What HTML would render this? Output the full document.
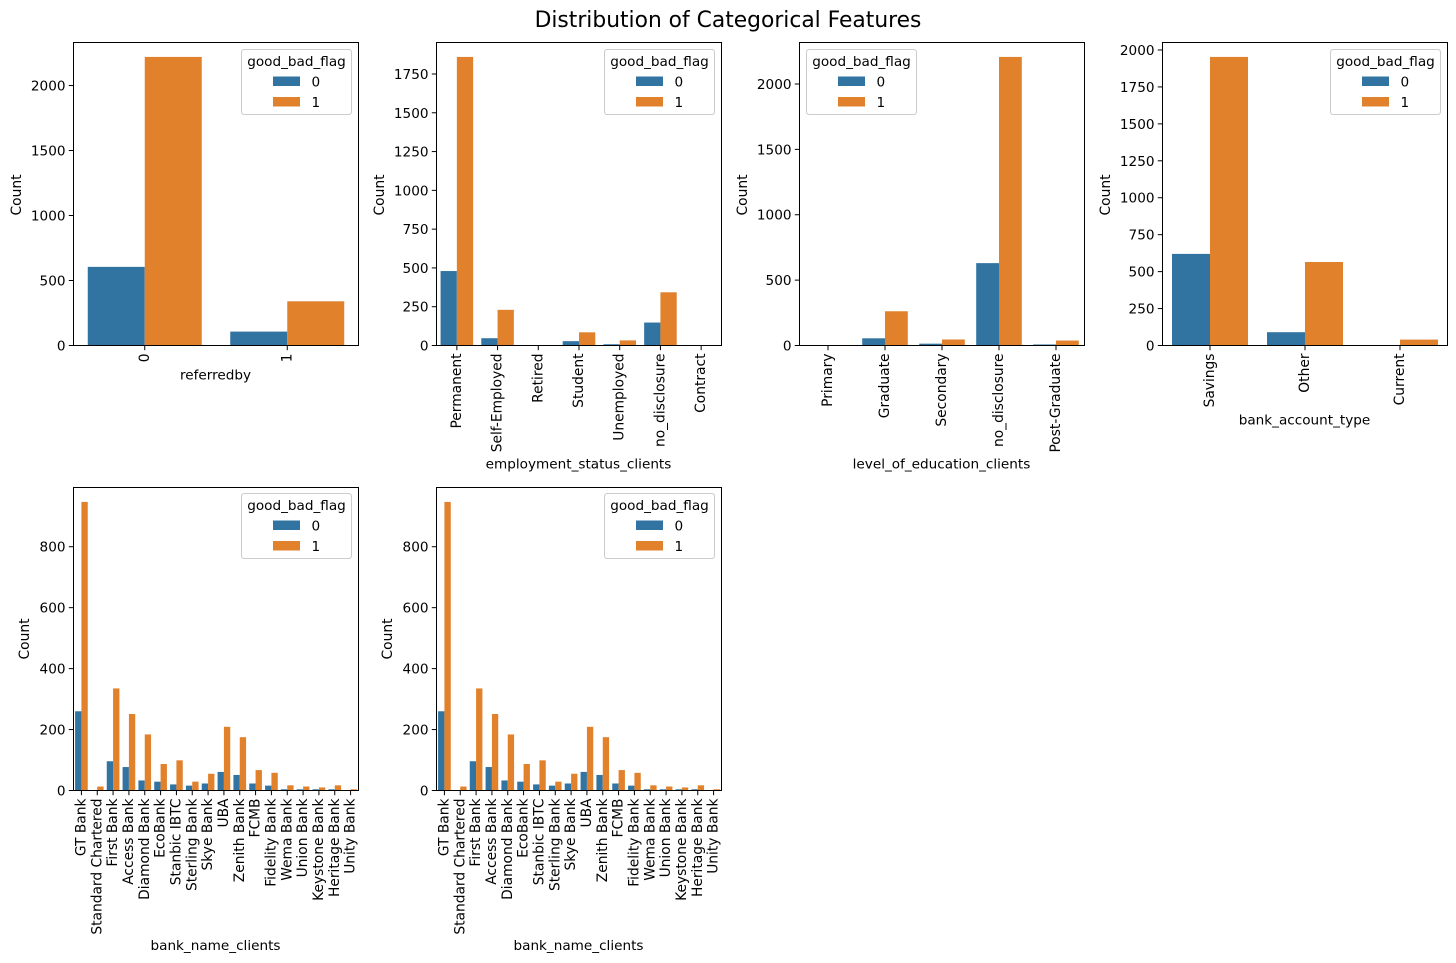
<!DOCTYPE html>
<html lang="en">
<head>
<meta charset="utf-8">
<title>Distribution of Categorical Features</title>
<style>
html,body{margin:0;padding:0;background:#fff;width:1456px;height:963px;overflow:hidden}
svg{display:block}
text{font-family:"DejaVu Sans","Liberation Sans",sans-serif;font-size:13.6px;fill:#000}
text.rot{font-size:13.8px}
</style>
</head>
<body>
<svg id="figure" xmlns="http://www.w3.org/2000/svg" width="1456" height="963" viewBox="0 0 1456 963">
<text x="728" y="27" text-anchor="middle" style="font-size:21.8px">Distribution of Categorical Features</text>
</svg>
<script>
const referredCategories = ["0", "1"];
const referredClass0 = [605, 107];
const referredClass1 = [2220, 340];
const referredTicks = [0, 500, 1000, 1500, 2000];

const employmentCategories = ["Permanent", "Self-Employed", "Retired", "Student", "Unemployed", "no_disclosure", "Contract"];
const employmentClass0 = [480, 47, 0, 28, 8, 148, 0];
const employmentClass1 = [1860, 230, 1, 85, 33, 343, 1];
const employmentTicks = [0, 250, 500, 750, 1000, 1250, 1500, 1750];

const educationCategories = ["Primary", "Graduate", "Secondary", "no_disclosure", "Post-Graduate"];
const educationClass0 = [0, 55, 14, 630, 8];
const educationClass1 = [2, 262, 46, 2207, 38];
const educationTicks = [0, 500, 1000, 1500, 2000];

const accountCategories = ["Savings", "Other", "Current"];
const accountClass0 = [620, 90, 1];
const accountClass1 = [1953, 565, 40];
const accountTicks = [0, 250, 500, 750, 1000, 1250, 1500, 1750, 2000];

const bankCategories = ["GT Bank", "Standard Chartered", "First Bank", "Access Bank", "Diamond Bank", "EcoBank", "Stanbic IBTC", "Sterling Bank", "Skye Bank", "UBA", "Zenith Bank", "FCMB", "Fidelity Bank", "Wema Bank", "Union Bank", "Keystone Bank", "Heritage Bank", "Unity Bank"];
const bankClass0 = [260, 0, 96, 77, 33, 29, 20, 16, 23, 61, 51, 23, 16, 4, 4, 4, 4, 0];
const bankClass1 = [947, 13, 335, 251, 184, 87, 99, 29, 55, 209, 175, 67, 58, 17, 13, 10, 17, 4];
const bankTicks = [0, 200, 400, 600, 800];

const legendTitle = "good_bad_flag";
const legendLabels = ["0", "1"];

const NS = "http://www.w3.org/2000/svg";
const figure = document.getElementById("figure");
const BLUE = "#3274a1";
const ORANGE = "#e1812c";
const AXES_W = 285;
const AXES_H = 303;

function mk(parent, tag, attrs, content) {
  const node = document.createElementNS(NS, tag);
  for (const key in attrs) node.setAttribute(key, attrs[key]);
  if (content !== undefined) node.textContent = content;
  parent.appendChild(node);
  return node;
}

function drawPanel(p) {
  const panel = mk(figure, "g", {});
  
  

  const n = p.categories.length;
  const yMax = Math.max(...p.class0, ...p.class1) * 1.05;
  const xScale = function (v) { return p.x + (v + 0.5) / n * AXES_W; };
  const yScale = function (v) { return p.y + AXES_H - v / yMax * AXES_H; };
  const base = yScale(0);

  p.categories.forEach(function (cat, i) {
    const el = mk(panel, "rect", { x: xScale(i - 0.4), y: yScale(p.class0[i]), width: xScale(i) - xScale(i - 0.4), height: base - yScale(p.class0[i]), fill: BLUE });
    
    
    const el2 = mk(panel, "rect", { x: xScale(i), y: yScale(p.class1[i]), width: xScale(i + 0.4) - xScale(i), height: base - yScale(p.class1[i]), fill: ORANGE });
    
    
  });

  p.ticks.forEach(function (t) {
    const yy = yScale(t);
    const tick = mk(panel, "line", { x1: p.x - 4.7, x2: p.x, y1: yy, y2: yy, stroke: "#000", "stroke-width": 1 });
    
    
    const label = mk(panel, "text", { x: p.x - 8, y: yy + 5, "text-anchor": "end" }, String(t));
    
    
  });

  p.categories.forEach(function (cat, i) {
    const xx = xScale(i);
    const tick = mk(panel, "line", { x1: xx, x2: xx, y1: base, y2: base + 4.7, stroke: "#000", "stroke-width": 1 });
    
    
    const ty = base + 8;
    const label = mk(panel, "text", { class: "rot", x: xx + 4, y: ty, "text-anchor": "end", transform: "rotate(-90 " + (xx + 4) + " " + ty + ")" }, cat);
    
    
  });

  const frame = mk(panel, "rect", { x: p.x, y: p.y, width: AXES_W, height: AXES_H, fill: "none", stroke: "#000", "stroke-width": 1 });
  
  

  const xTitle = mk(panel, "text", { x: p.x + AXES_W / 2 - 0.5, y: p.xLabelY, "text-anchor": "middle" }, p.xLabel);
  
  

  const yc = p.y + AXES_H / 2 + p.yLabelDy;
  const yTitle = mk(panel, "text", { class: "rot", x: p.yLabelX, y: yc, "text-anchor": "middle", transform: "rotate(-90 " + p.yLabelX + " " + yc + ")" }, "Count");
  
  

  const legend = mk(panel, "g", {});
  
  
  const lx = p.x + p.legendDx;
  const ly = p.y + p.legendDy;
  const box = mk(legend, "rect", { x: lx, y: ly, width: 110, height: 65, rx: 2.7, ry: 2.7, fill: "#fff", "fill-opacity": 0.8, stroke: "#ccc", "stroke-width": 1 });
  
  
  const lt = mk(legend, "text", { x: lx + 55, y: ly + 16.5, "text-anchor": "middle" }, legendTitle);
  
  
  const s0 = mk(legend, "rect", { x: lx + 31.5, y: ly + 27, width: 27, height: 9.5, fill: BLUE });
  
  
  const l0 = mk(legend, "text", { x: lx + 70, y: ly + 37 }, legendLabels[0]);
  
  
  const s1 = mk(legend, "rect", { x: lx + 31.5, y: ly + 47.5, width: 27, height: 9.5, fill: ORANGE });
  
  
  const l1 = mk(legend, "text", { x: lx + 70, y: ly + 57.5 }, legendLabels[1]);
  
  
}

drawPanel({ name: "referredby-chart", x: 73.5, y: 42.5, categories: referredCategories, class0: referredClass0, class1: referredClass1, ticks: referredTicks, xLabel: "referredby", xLabelY: 379.5, yLabelX: 21, yLabelDy: 1, legendDx: 168, legendDy: 7 });
drawPanel({ name: "employment-status-chart", x: 436.5, y: 42.5, categories: employmentCategories, class0: employmentClass0, class1: employmentClass1, ticks: employmentTicks, xLabel: "employment_status_clients", xLabelY: 468.5, yLabelX: 384, yLabelDy: 1, legendDx: 168, legendDy: 7 });
drawPanel({ name: "education-level-chart", x: 799.5, y: 42.5, categories: educationCategories, class0: educationClass0, class1: educationClass1, ticks: educationTicks, xLabel: "level_of_education_clients", xLabelY: 468.5, yLabelX: 747, yLabelDy: 1, legendDx: 7, legendDy: 7 });
drawPanel({ name: "bank-account-type-chart", x: 1162.5, y: 42.5, categories: accountCategories, class0: accountClass0, class1: accountClass1, ticks: accountTicks, xLabel: "bank_account_type", xLabelY: 424.5, yLabelX: 1110, yLabelDy: 1, legendDx: 168, legendDy: 7 });
drawPanel({ name: "bank-name-chart-left", x: 73.5, y: 487.5, categories: bankCategories, class0: bankClass0, class1: bankClass1, ticks: bankTicks, xLabel: "bank_name_clients", xLabelY: 950, yLabelX: 29, yLabelDy: 0, legendDx: 168, legendDy: 6 });
drawPanel({ name: "bank-name-chart-right", x: 436.5, y: 487.5, categories: bankCategories, class0: bankClass0, class1: bankClass1, ticks: bankTicks, xLabel: "bank_name_clients", xLabelY: 950, yLabelX: 392, yLabelDy: 0, legendDx: 168, legendDy: 6 });
</script>
</body>
</html>
